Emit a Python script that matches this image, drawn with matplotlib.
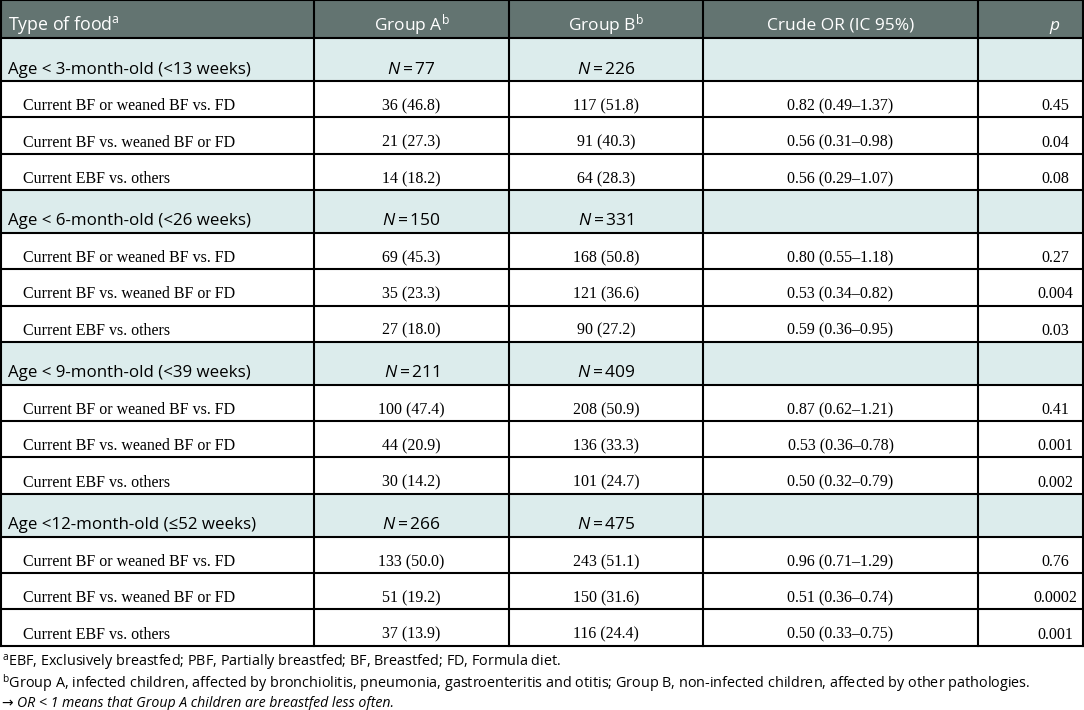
import matplotlib
matplotlib.use("Agg")
import matplotlib.pyplot as plt
from matplotlib.patches import Rectangle

# Tabellendaten
kopf = ["Type of food$^{\\mathrm{a}}$", "Group A$^{\\mathrm{b}}$", "Group B$^{\\mathrm{b}}$",
        "Crude OR (IC 95%)", "$\\mathit{p}$"]
altersgruppen = ["Age < 3-month-old (<13 weeks)", "Age < 6-month-old (<26 weeks)",
                 "Age < 9-month-old (<39 weeks)", "Age <12-month-old (\u226452 weeks)"]
n_gruppe_a = [77, 150, 211, 266]
n_gruppe_b = [226, 331, 409, 475]
vergleiche = ["Current BF or weaned BF vs. FD", "Current BF vs. weaned BF or FD",
              "Current EBF vs. others"]

anzahl_a = [[36, 21, 14], [69, 35, 27], [100, 44, 30], [133, 51, 37]]
prozent_a = [[46.8, 27.3, 18.2], [45.3, 23.3, 18.0], [47.4, 20.9, 14.2], [50.0, 19.2, 13.9]]
anzahl_b = [[117, 91, 64], [168, 121, 90], [208, 136, 101], [243, 150, 116]]
prozent_b = [[51.8, 40.3, 28.3], [50.8, 36.6, 27.2], [50.9, 33.3, 24.7], [51.1, 31.6, 24.4]]
odds_ratio = [[0.82, 0.56, 0.56], [0.80, 0.53, 0.59], [0.87, 0.53, 0.50], [0.96, 0.51, 0.50]]
ci_unten = [[0.49, 0.31, 0.29], [0.55, 0.34, 0.36], [0.62, 0.36, 0.32], [0.71, 0.36, 0.33]]
ci_oben = [[1.37, 0.98, 1.07], [1.18, 0.82, 0.95], [1.21, 0.78, 0.79], [1.29, 0.74, 0.75]]
p_werte = [["0.45", "0.04", "0.08"], ["0.27", "0.004", "0.03"],
           ["0.41", "0.001", "0.002"], ["0.76", "0.0002", "0.001"]]

fussnoten = [
    "$^{\\mathrm{a}}$EBF, Exclusively breastfed; PBF, Partially breastfed; BF, Breastfed; FD, Formula diet.",
    "$^{\\mathrm{b}}$Group A, infected children, affected by bronchiolitis, pneumonia, gastroenteritis and otitis; "
    "Group B, non-infected children, affected by other pathologies.",
]
fussnote_or = "OR < 1 means that Group A children are breastfed less often."

# Layout (Pixel)
spalten_x = [1, 314, 509, 703, 978, 1083]
kopf_hoehe = 38
abschnitt_hoehe = 43
zeilen_hoehe = 36.3

kopf_farbe = "#637471"
abschnitt_farbe = "#dcecec"
sans = ["Open Sans", "DejaVu Sans"]
serif = ["Liberation Serif", "DejaVu Serif"]

plt.rcParams["mathtext.fontset"] = "custom"
plt.rcParams["mathtext.rm"] = "Open Sans"
plt.rcParams["mathtext.it"] = "Open Sans:italic"

fig = plt.figure(figsize=(10.84, 7.10), dpi=100)
ax = fig.add_axes([0, 0, 1, 1])
ax.set_xlim(0, 1084)
ax.set_ylim(710, 0)
ax.axis("off")

breite = spalten_x[-1] - spalten_x[0]
mitten = [(spalten_x[i] + spalten_x[i + 1]) / 2 for i in range(5)]
mitten[4] = 1055

# Kopfzeile
ax.add_patch(Rectangle((spalten_x[0], 0), breite, kopf_hoehe, facecolor=kopf_farbe, edgecolor="none"))
for i, txt in enumerate(kopf):
    if i == 0:
        ax.text(8, 30, txt, color="white", fontsize=12.8, family=sans, ha="left", va="baseline")
    else:
        ax.text(mitten[i], 30, txt, color="white", fontsize=12.5, family=sans, ha="center", va="baseline")

y = kopf_hoehe
linien_y = [0, y]
for s in range(len(altersgruppen)):
    ax.add_patch(Rectangle((spalten_x[0], y), breite, abschnitt_hoehe, facecolor=abschnitt_farbe, edgecolor="none"))
    basis = y + abschnitt_hoehe - 7.5
    ax.text(8, basis, altersgruppen[s], fontsize=12.2, family=sans, ha="left", va="baseline", color="black")
    ax.text(mitten[1], basis, "$\\mathit{N}$\u2009=\u2009" + str(n_gruppe_a[s]), fontsize=12.5, family=sans,
            ha="center", va="baseline")
    ax.text(mitten[2], basis, "$\\mathit{N}$\u2009=\u2009" + str(n_gruppe_b[s]), fontsize=12.5, family=sans,
            ha="center", va="baseline")
    y += abschnitt_hoehe
    linien_y.append(y)
    for r in range(len(vergleiche)):
        basis = y + zeilen_hoehe - 7
        werte = [
            f"{anzahl_a[s][r]} ({prozent_a[s][r]:.1f})",
            f"{anzahl_b[s][r]} ({prozent_b[s][r]:.1f})",
            f"{odds_ratio[s][r]:.2f} ({ci_unten[s][r]:.2f}\u2013{ci_oben[s][r]:.2f})",
            p_werte[s][r],
        ]
        ax.text(23, basis, vergleiche[r], fontsize=11.5, family=serif, ha="left", va="baseline")
        for k, w in enumerate(werte):
            ax.text(mitten[k + 1], basis, w, fontsize=11.5, family=serif, ha="center", va="baseline")
        y += zeilen_hoehe
        linien_y.append(y)

# Gitterlinien
for ly in linien_y:
    ax.plot([spalten_x[0], spalten_x[-1]], [ly, ly], color="black", linewidth=1.5, solid_capstyle="projecting")
for lx in spalten_x:
    ax.plot([lx, lx], [0, linien_y[-1]], color="black", linewidth=1.5, solid_capstyle="projecting")

# Fußnoten
ax.text(2, linien_y[-1] + 21, fussnoten[0], fontsize=10.4, family=sans, ha="left", va="baseline")
ax.text(2, linien_y[-1] + 42, fussnoten[1], fontsize=10.4, family=sans, ha="left", va="baseline")
ax.text(2, linien_y[-1] + 61, "\u2192 ", fontsize=10, family=sans, ha="left", va="baseline")
ax.text(17, linien_y[-1] + 61, fussnote_or, fontsize=10.2, family=sans, style="italic", ha="left", va="baseline")

fig.savefig("out.png", dpi=100)
